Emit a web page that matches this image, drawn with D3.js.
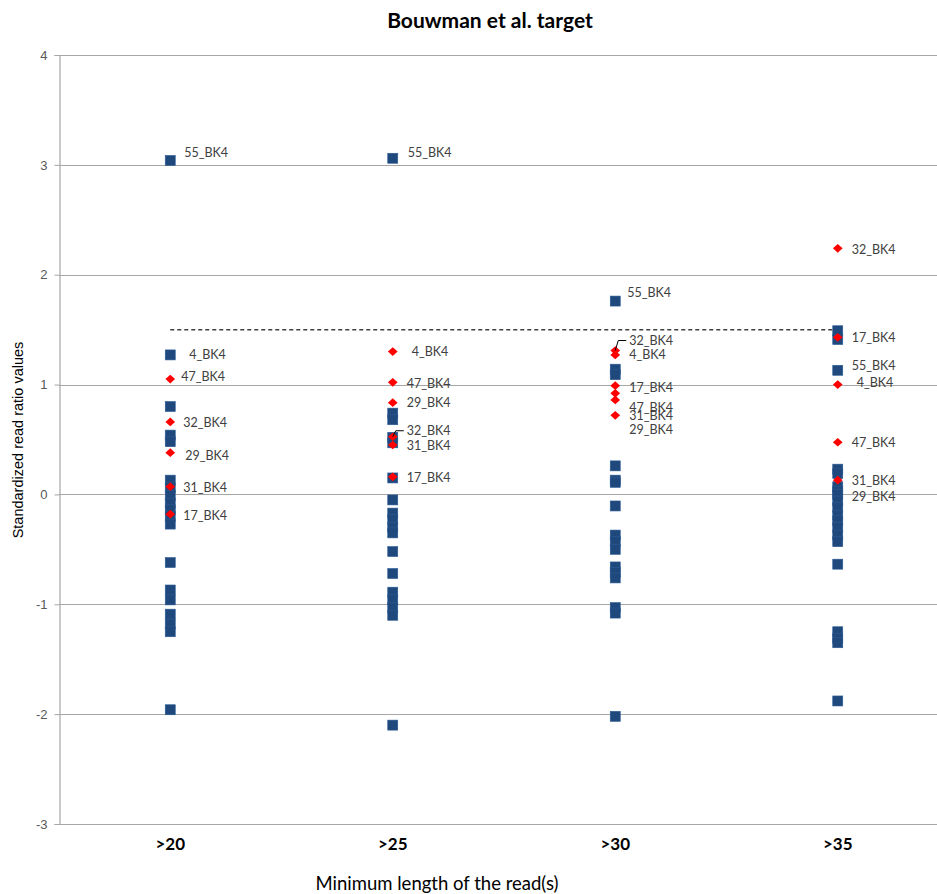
<!DOCTYPE html>
<html>
<head>
<meta charset="utf-8">
<script src="https://cdn.jsdelivr.net/npm/d3@7"></script>
<style>
  body { margin: 0; background: #fff; }
  svg { display: block; }
</style>
</head>
<body>
<svg id="chart" width="937" height="894"></svg>
<script>
// Categories along the x axis and the y tick values
const categories = [">20", ">25", ">30", ">35"];
const yTicks = [-3, -2, -1, 0, 1, 2, 3, 4];
const threshold = 1.5;

// Standardized read ratio values, blue squares, one array per category
const blueGt20 = [3.04, 1.27, 0.80, 0.54, 0.48, 0.13, 0.06, -0.01, -0.08, -0.14, -0.20, -0.27, -0.62, -0.87, -0.96, -1.09, -1.18, -1.25, -1.96];
const blueGt25 = [3.06, 0.74, 0.68, 0.52, 0.47, 0.15, -0.05, -0.17, -0.23, -0.30, -0.35, -0.52, -0.72, -0.89, -0.96, -1.03, -1.10, -2.10];
const blueGt30 = [1.76, 1.14, 1.09, 0.26, 0.13, 0.11, -0.105, -0.37, -0.43, -0.50, -0.66, -0.71, -0.76, -1.03, -1.08, -2.02];
const blueGt35 = [1.49, 1.41, 1.13, 0.23, 0.19, 0.07, 0.03, 0.0, -0.06, -0.12, -0.19, -0.24, -0.30, -0.37, -0.43, -0.635, -1.25, -1.31, -1.35, -1.88];

// Red diamonds, one array per category
const redGt20 = [1.05, 0.66, 0.38, 0.07, -0.18];
const redGt25 = [1.30, 1.02, 0.835, 0.525, 0.45, 0.16];
const redGt30 = [1.31, 1.27, 0.99, 0.92, 0.86, 0.72];
const redGt35 = [2.24, 1.43, 1.00, 0.475, 0.13];

// Named samples: [name, category, value]
const sampleNames = [
  ["55_BK4", ">20", 3.04], ["4_BK4", ">20", 1.27], ["47_BK4", ">20", 1.05], ["32_BK4", ">20", 0.66],
  ["29_BK4", ">20", 0.38], ["31_BK4", ">20", 0.07], ["17_BK4", ">20", -0.18],
  ["55_BK4", ">25", 3.06], ["4_BK4", ">25", 1.30], ["47_BK4", ">25", 1.02], ["29_BK4", ">25", 0.835],
  ["32_BK4", ">25", 0.525], ["31_BK4", ">25", 0.45], ["17_BK4", ">25", 0.16],
  ["55_BK4", ">30", 1.76], ["32_BK4", ">30", 1.31], ["4_BK4", ">30", 1.27], ["17_BK4", ">30", 0.99],
  ["47_BK4", ">30", 0.92], ["31_BK4", ">30", 0.86], ["29_BK4", ">30", 0.72],
  ["32_BK4", ">35", 2.24], ["17_BK4", ">35", 1.43], ["55_BK4", ">35", 1.13], ["4_BK4", ">35", 1.00],
  ["47_BK4", ">35", 0.475], ["31_BK4", ">35", 0.13], ["29_BK4", ">35", 0.03]
];

// Label placement relative to its marker, in pixels: [dx, dy, leader line?]
const labelOffsets = [
  [14, -8, 0], [19, 0, 0], [11, -2, 0], [13, 1, 0], [15, 3, 0], [13, 1, 0], [13, 1, 0],
  [15, -6, 0], [19, 0, 0], [14, 1, 0], [14, 0, 0], [14, -6, 1], [14, 1, 0], [14, 1, 0],
  [12, -8, 0], [14, -10, 1], [14, 0, 0], [14, 2, 0], [14, 14, 0], [14, 16, 0], [14, 14, 0],
  [14, 1, 0], [14, 0, 0], [14, -5, 0], [19, -2, 0], [14, 0, 0], [14, 0, 0], [14, 5, 0]
];

const blueSeries = [blueGt20, blueGt25, blueGt30, blueGt35];
const redSeries = [redGt20, redGt25, redGt30, redGt35];

const svg = d3.select("#chart");
const W = 937, H = 894;
const plot = { left: 59, right: 949, top: 55, bottom: 824 };

const x = d3.scaleBand().domain(categories).range([plot.left, plot.right]).padding(0);
const cx = c => x(c) + x.bandwidth() / 2;
const y = d3.scaleLinear().domain([-3, 4]).range([plot.bottom, plot.top]);

const gridColor = "#a6a6a6";

// Horizontal gridlines
svg.append("g")
  .selectAll("line")
  .data(yTicks)
  .join("line")
  .attr("x1", plot.left).attr("x2", W)
  .attr("y1", d => Math.round(y(d)) + 0.5).attr("y2", d => Math.round(y(d)) + 0.5)
  .attr("stroke", gridColor).attr("stroke-width", 1);

// Y axis (plain hyphen for negatives)
const yAxis = d3.axisLeft(y).tickValues(yTicks).tickSize(5).tickPadding(7).tickFormat(d => String(d));
const gy = svg.append("g").attr("transform", `translate(${plot.left + 0.5},0)`).call(yAxis);
gy.select(".domain").attr("stroke", gridColor).attr("stroke-width", 1.2);
gy.selectAll(".tick line").attr("stroke", gridColor);
gy.selectAll(".tick text")
  .attr("fill", "#595959")
  .style("font-family", "'Liberation Sans', Arial, sans-serif")
  .style("font-size", "13px");

// X axis labels
const xAxis = d3.axisBottom(x).tickSize(0).tickPadding(14);
const gx = svg.append("g").attr("transform", `translate(0,${plot.bottom})`).call(xAxis);
gx.select(".domain").remove();
gx.selectAll(".tick text")
  .attr("fill", "#000")
  .style("font-family", "Lato, 'Open Sans', sans-serif")
  .style("font-weight", "bold")
  .style("font-size", "17px");

// Dashed threshold line
svg.append("line")
  .attr("x1", cx(categories[0])).attr("x2", cx(categories[categories.length - 1]))
  .attr("y1", y(threshold)).attr("y2", y(threshold))
  .attr("stroke", "#404040").attr("stroke-width", 1.5)
  .attr("stroke-dasharray", "4,3");

// Blue squares
const sq = 10;
blueSeries.forEach((vals, i) => {
  svg.append("g").selectAll("rect")
    .data(vals)
    .join("rect")
    .attr("x", cx(categories[i]) - sq / 2)
    .attr("y", d => y(d) - sq / 2)
    .attr("width", sq).attr("height", sq)
    .attr("fill", "#1f497d")
    .attr("stroke", "#2b5a94").attr("stroke-width", 0.6);
});

// Red diamonds
const diamond = d3.symbol().type(d3.symbolDiamond2).size(60);
redSeries.forEach((vals, i) => {
  svg.append("g").selectAll("path")
    .data(vals)
    .join("path")
    .attr("d", diamond)
    .attr("transform", d => `translate(${cx(categories[i])},${y(d)}) scale(1,0.9)`)
    .attr("fill", "#ff0000");
});

// Sample labels with optional leader lines
const labelG = svg.append("g");
sampleNames.forEach(([name, cat, val], i) => {
  const [dx, dy, leader] = labelOffsets[i];
  const px = cx(cat), py = y(val);
  if (leader) {
    labelG.append("path")
      .attr("d", `M${px},${py} L${px + 3},${py + dy} L${px + dx - 3},${py + dy}`)
      .attr("fill", "none").attr("stroke", "#000").attr("stroke-width", 1);
  }
  labelG.append("text")
    .attr("x", px + dx).attr("y", py + dy)
    .attr("dy", "0.35em")
    .attr("fill", "#404040")
    .style("font-family", "Lato, 'Open Sans', sans-serif")
    .style("font-size", "12.5px")
    .text(name);
});

// Title
svg.append("text")
  .attr("x", 490).attr("y", 21).attr("dy", "0.35em")
  .attr("text-anchor", "middle")
  .style("font-family", "Lato, 'Open Sans', sans-serif")
  .style("font-weight", "bold")
  .style("font-size", "21px")
  .attr("fill", "#000")
  .text("Bouwman et al. target");

// Axis titles
svg.append("text")
  .attr("x", 437).attr("y", 884).attr("dy", "0.35em")
  .attr("text-anchor", "middle")
  .style("font-family", "Lato, 'Open Sans', sans-serif")
  .style("font-size", "18.5px")
  .attr("fill", "#000")
  .text("Minimum length of the read(s)");

svg.append("text")
  .attr("transform", "translate(18,440) rotate(-90)")
  .attr("dy", "0.35em")
  .attr("text-anchor", "middle")
  .style("font-family", "'Liberation Sans', Arial, sans-serif")
  .style("font-size", "14.5px")
  .attr("fill", "#000")
  .text("Standardized read ratio values");
</script>
</body>
</html>
